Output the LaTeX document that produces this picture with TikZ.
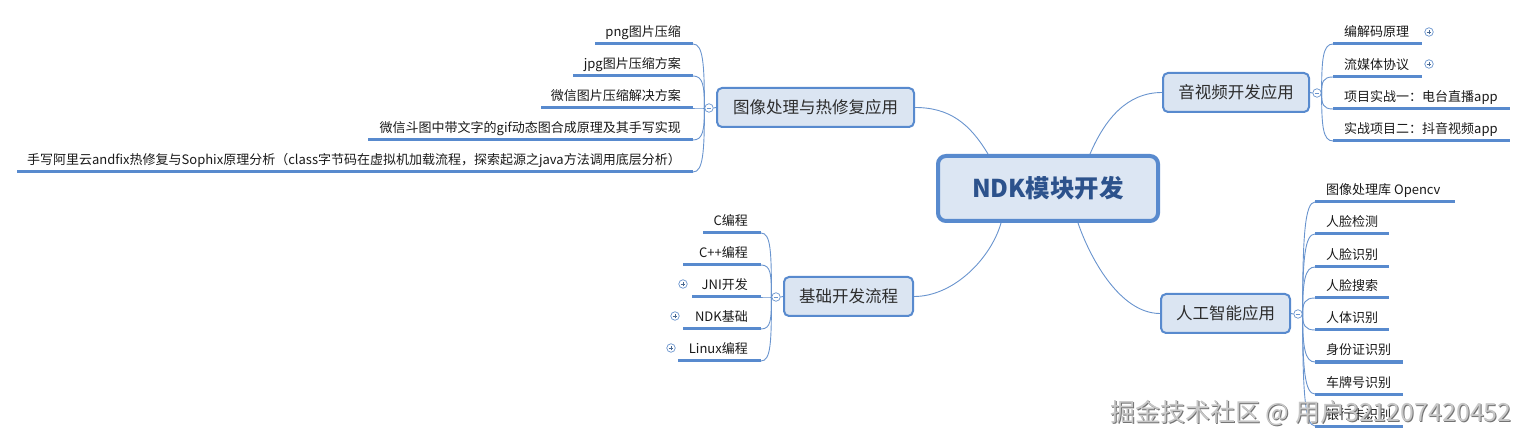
\documentclass[tikz,border=0pt]{standalone}
\usepackage{fontspec}
\setmainfont{Noto Sans CJK SC}
\usetikzlibrary{calc}
\definecolor{lineblue}{RGB}{88,138,206}
\definecolor{connblue}{RGB}{105,148,206}
\definecolor{boxfill}{RGB}{219,229,242}
\definecolor{rootfill}{RGB}{220,230,243}
\definecolor{roottext}{RGB}{44,82,140}
\definecolor{txt}{RGB}{25,25,25}
\definecolor{btxt}{RGB}{45,45,45}
\newcommand\lcurve[2]{\draw[conn] (#1) .. controls ($(#1)!0.7!(#1 |- #2)$) and ($(#2)+(10,0)$) .. (#2);}
\newcommand\rcurve[2]{\draw[conn] (#1) .. controls ($(#1)!0.7!(#1 |- #2)$) and ($(#2)+(-10,0)$) .. (#2);}
\begin{document}
\begin{tikzpicture}[x=1pt,y=-1pt,
  conn/.style={draw=connblue, line width=0.9pt},
  uline/.style={draw=lineblue, line width=3pt},
  leafL/.style={anchor=base east, inner sep=0pt, font=\fontsize{13}{15}\selectfont, text=txt},
  leafR/.style={anchor=base west, inner sep=0pt, font=\fontsize{13}{15}\selectfont, text=txt},
  branch/.style={draw=lineblue, line width=2pt, fill=boxfill, rounded corners=5pt, inner sep=0pt,
    font=\fontsize{16.5}{19}\selectfont, text=btxt, minimum height=39pt},
  root/.style={draw=lineblue, line width=4pt, fill=rootfill, rounded corners=8pt, inner sep=0pt,
    minimum width=220pt, minimum height=65pt, font=\fontsize{24.5}{28}\selectfont\bfseries, text=roottext},
  tog/.style={circle, draw=connblue, line width=0.7pt, fill=white, minimum size=8.5pt, inner sep=0pt},
  minus/.style={tog, path picture={\draw[connblue, line width=0.6pt]
    ([xshift=-2.3pt]path picture bounding box.center) -- ([xshift=2.3pt]path picture bounding box.center);}},
  plus/.style={tog, path picture={\draw[connblue!70!black, line width=0.6pt]
    ([xshift=-2.3pt]path picture bounding box.center) -- ([xshift=2.3pt]path picture bounding box.center)
    ([yshift=-2.3pt]path picture bounding box.center) -- ([yshift=2.3pt]path picture bounding box.center);}},
  wm/.style={inner sep=0pt, font=\fontsize{25}{28}\selectfont}
]
\useasboundingbox (0,0) rectangle (1528,443);

% ---------- main nodes ----------
\node[root] (root) at (1048,188.5) {NDK模块开发};
\node[branch, minimum width=197pt] (img) at (815.5,107.5) {图像处理与热修复应用};
\node[branch, minimum width=146pt] (av) at (1236,92.5) {音视频开发应用};
\node[branch, minimum width=129pt] (base) at (848.5,296.5) {基础开发流程};
\node[branch, minimum width=129pt] (ai) at (1225.5,313.5) {人工智能应用};

\coordinate (rTL) at ($(root.north west)+(52,0)$);
\coordinate (rTR) at ($(root.north west)+(154,0)$);
\coordinate (rBL) at ($(root.south west)+(65,0)$);
\coordinate (rBR) at ($(root.south west)+(142,0)$);
\draw[conn] (img.east) .. controls +(35,0) and +(-18,-30) .. (rTL);
\draw[conn] (av.west) .. controls +(-35,0) and +(15,-35) .. (rTR);
\draw[conn] (base.east) .. controls +(40,0) and +(-10,35) .. (rBL);
\draw[conn] (ai.west) .. controls +(-40,0) and +(12,35) .. (rBR);

% ---------- toggles ----------
\node[minus] (imgT) at (709,108) {};
\node[minus] (avT) at (1317,93) {};
\node[minus] (baseT) at (776,297) {};
\node[minus] (aiT) at (1298,314) {};
\draw[conn] (img.west) -- (imgT.east);
\draw[conn] (av.east) -- (avT.west);
\draw[conn] (base.west) -- (baseT.east);
\draw[conn] (ai.east) -- (aiT.west);

% ---------- image branch leaves ----------
\node[leafL] (i1) at (681,37) {png图片压缩};
\node[leafL] (i2) at (681,69) {jpg图片压缩方案};
\node[leafL] (i3) at (681,101) {微信图片压缩解决方案};
\node[leafL] (i4) at (681,133) {微信斗图中带文字的gif动态图合成原理及其手写实现};
\node[leafL] (i5) at (681,165) {手写阿里云andfix热修复与Sophix原理分析（class字节码在虚拟机加载流程，探索起源之java方法调用底层分析）};
\coordinate (i1s) at (595,44); \coordinate (i1e) at (693,44);
\coordinate (i2s) at (573,76); \coordinate (i2e) at (693,76);
\coordinate (i3s) at (541,108); \coordinate (i3e) at (693,108);
\coordinate (i4s) at (368,140); \coordinate (i4e) at (693,140);
\coordinate (i5s) at (17,172); \coordinate (i5e) at (693,172);
\foreach \k in {1,...,5} {\draw[uline] (i\k s) -- (i\k e);}
\foreach \k in {1,...,5} {\lcurve{imgT.west}{i\k e}}

% ---------- base branch leaves ----------
\node[leafL] (b1) at (748,226) {C编程};
\node[leafL] (b2) at (748,258) {C++编程};
\node[leafL] (b3) at (748,290) {JNI开发};
\node[leafL] (b4) at (748,322) {NDK基础};
\node[leafL] (b5) at (748,354) {Linux编程};
\coordinate (b1s) at (703,233); \coordinate (b1e) at (761,233);
\coordinate (b2s) at (683,265); \coordinate (b2e) at (761,265);
\coordinate (b3s) at (692,297); \coordinate (b3e) at (761,297);
\coordinate (b4s) at (683,329); \coordinate (b4e) at (761,329);
\coordinate (b5s) at (678,361); \coordinate (b5e) at (761,361);
\foreach \k in {1,...,5} {\draw[uline] (b\k s) -- (b\k e);}
\foreach \k in {1,...,5} {\lcurve{baseT.west}{b\k e}}
\node[plus] (b3p) at (683,284) {};
\node[plus] (b4p) at (675,316) {};
\node[plus] (b5p) at (671,348) {};

% ---------- audio/video leaves ----------
\node[leafR] (a1) at (1344,37) {编解码原理};
\node[leafR] (a2) at (1344,70) {流媒体协议};
\node[leafR] (a3) at (1344,102) {项目实战一：电台直播app};
\node[leafR] (a4) at (1344,134) {实战项目二：抖音视频app};
\coordinate (a1s) at (1333,44); \coordinate (a1e) at (1422,44);
\coordinate (a2s) at (1333,77); \coordinate (a2e) at (1422,77);
\coordinate (a3s) at (1333,109); \coordinate (a3e) at (1510,109);
\coordinate (a4s) at (1333,141); \coordinate (a4e) at (1510,141);
\foreach \k in {1,...,4} {\draw[uline] (a\k s) -- (a\k e);}
\foreach \k in {1,...,4} {\rcurve{avT.east}{a\k s}}
\node[plus] (a1p) at (1429,32) {};
\node[plus] (a2p) at (1429,64) {};

% ---------- AI leaves ----------
\node[leafR] (c1) at (1326,195) {图像处理库 Opencv};
\node[leafR] (c2) at (1326,227) {人脸检测};
\node[leafR] (c3) at (1326,260) {人脸识别};
\node[leafR] (c4) at (1326,291) {人脸搜索};
\node[leafR] (c5) at (1326,323) {人体识别};
\node[leafR] (c6) at (1326,355) {身份证识别};
\node[leafR] (c7) at (1326,387) {车牌号识别};
\node[leafR] (c8) at (1326,419) {银行卡识别};
\coordinate (c1s) at (1315,202); \coordinate (c1e) at (1455,202);
\coordinate (c2s) at (1315,234); \coordinate (c2e) at (1389,234);
\coordinate (c3s) at (1315,267); \coordinate (c3e) at (1389,267);
\coordinate (c4s) at (1315,298); \coordinate (c4e) at (1389,298);
\coordinate (c5s) at (1315,330); \coordinate (c5e) at (1389,330);
\coordinate (c6s) at (1315,362); \coordinate (c6e) at (1403,362);
\coordinate (c7s) at (1315,394); \coordinate (c7e) at (1403,394);
\coordinate (c8s) at (1315,426); \coordinate (c8e) at (1403,426);
\foreach \k in {1,...,8} {\draw[uline] (c\k s) -- (c\k e);}
\foreach \k in {1,...,8} {\rcurve{aiT.east}{c\k s}}

% ---------- watermark ----------
\node[wm, text=black!55] (wms) at (1312,414) {掘金技术社区 @ 用户321207420452};
\node[wm, text=black!22] (wm) at (1311,413) {掘金技术社区 @ 用户321207420452};
\end{tikzpicture}
\end{document}
